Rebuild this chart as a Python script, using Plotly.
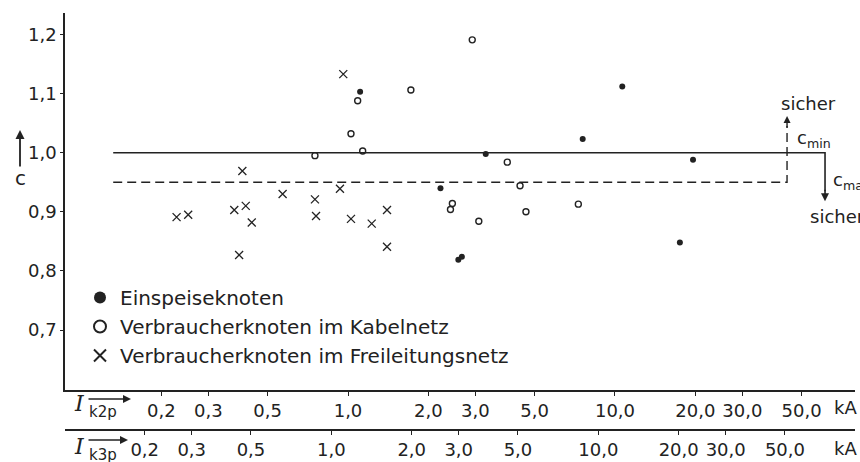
import math
import plotly.graph_objects as go

# Ik2p in kA, c factor
einspeise_x = [1.11, 3.28, 2.22, 10.65, 7.57, 19.6, 2.59, 2.67, 17.5]
einspeise_c = [1.103, 0.998, 0.940, 1.112, 1.023, 0.988, 0.819, 0.824, 0.848]

kabel_x = [1.087, 1.026, 1.135, 0.752, 1.72, 2.92, 3.95, 4.41, 2.46, 2.42, 3.09, 4.64, 7.29]
kabel_c = [1.088, 1.032, 1.003, 0.995, 1.106, 1.191, 0.984, 0.944, 0.914, 0.904, 0.884, 0.900, 0.913]

frei_x = [0.960, 0.933, 0.569, 0.752, 0.759, 1.026, 1.227, 1.40, 1.40,
          0.228, 0.252, 0.375, 0.414, 0.436, 0.391, 0.402]
frei_c = [1.133, 0.939, 0.930, 0.921, 0.893, 0.888, 0.880, 0.903, 0.841,
          0.891, 0.895, 0.903, 0.910, 0.882, 0.827, 0.969]

x_ticks = [0.2, 0.3, 0.5, 1, 2, 3, 5, 10, 20, 30, 50]
x_ticktext = ["0,2", "0,3", "0,5", "1,0", "2,0", "3,0", "5,0", "10,0", "20,0", "30,0", "50,0"]
y_ticks = [0.7, 0.8, 0.9, 1.0, 1.1, 1.2]
y_ticktext = ["0,7", "0,8", "0,9", "1,0", "1,1", "1,2"]

c_min = 1.0
c_max = 0.95
line_start = 0.132
c_min_end = 61.2
c_max_end = 44.1

INK = "#222222"
FONT = "DejaVu Sans"

# Ik3p = 2/sqrt(3) * Ik2p
shift = math.log10(2 / math.sqrt(3))
x_range = [-1.06, 1.899]
x2_range = [x_range[0] + shift, x_range[1] + shift]


def px(x):
    return (x - 65) / 790


def py(y):
    return (430 - y) / 417


fig = go.Figure()

fig.add_trace(go.Scatter(x=[line_start, c_min_end, c_min_end], y=[c_min, c_min, 0.935],
                         mode="lines", line=dict(color=INK, width=1.6),
                         showlegend=False, hoverinfo="skip"))
fig.add_trace(go.Scatter(x=[line_start, c_max_end, c_max_end], y=[c_max, c_max, 1.045],
                         mode="lines", line=dict(color=INK, width=1.4, dash="9px,5px"),
                         showlegend=False, hoverinfo="skip"))

fig.add_trace(go.Scatter(x=einspeise_x, y=einspeise_c, mode="markers",
                         name="Einspeiseknoten", legendgroup="a",
                         marker=dict(symbol="circle", size=6, color=INK)))
fig.add_trace(go.Scatter(x=kabel_x, y=kabel_c, mode="markers",
                         name="Verbraucherknoten im Kabelnetz", legendgroup="b",
                         marker=dict(symbol="circle-open", size=6, color=INK,
                                     line=dict(width=1.4, color=INK))))
fig.add_trace(go.Scatter(x=frei_x, y=frei_c, mode="markers",
                         name="Verbraucherknoten im Freileitungsnetz", legendgroup="c",
                         marker=dict(symbol="x-thin", size=8, color=INK,
                                     line=dict(width=1.3, color=INK))))
fig.add_trace(go.Scatter(x=[None], y=[None], xaxis="x2", showlegend=False,
                         hoverinfo="skip"))

axis_style = dict(type="log", showline=True, linewidth=1.5, linecolor=INK,
                  ticks="outside", ticklen=4, tickwidth=1.2, tickcolor=INK,
                  tickvals=x_ticks, ticktext=x_ticktext, showgrid=False,
                  zeroline=False, automargin=False,
                  tickfont=dict(size=18, color=INK))

fig.update_layout(
    width=860, height=462,
    margin=dict(l=65, r=5, t=13, b=32, pad=0, autoexpand=False),
    paper_bgcolor="white", plot_bgcolor="white",
    font=dict(family=FONT, size=18, color=INK),
    xaxis=dict(range=x_range, anchor="y", **axis_style),
    xaxis2=dict(range=x2_range, overlaying="x", anchor="free", position=0,
                side="bottom", **axis_style),
    yaxis=dict(domain=[40 / 417, 1], range=[0.5985, 1.2364], showline=True,
               linewidth=1.5, linecolor=INK, ticks="outside", ticklen=3,
               tickwidth=1.2, tickcolor=INK, tickvals=y_ticks, ticktext=y_ticktext,
               showgrid=False, zeroline=False, automargin=False,
               tickfont=dict(size=18, color=INK)),
    legend=dict(x=px(80), y=py(278), xanchor="left", yanchor="top",
                font=dict(size=20, color=INK), itemsizing="constant",
                tracegroupgap=0, bgcolor="rgba(0,0,0,0)"),
    showlegend=True,
)

annotations = [
    # y-axis title with arrow
    dict(x=px(20), y=py(178), text="c", showarrow=False, font=dict(size=20)),
    dict(x=px(20), y=py(130), text="", showarrow=True, ax=0, ay=38,
         arrowhead=2, arrowsize=1, arrowwidth=1.8, arrowcolor=INK),
    # x-axis titles
    dict(x=px(79), y=py(403), text="<i>I</i>", showarrow=False,
         font=dict(family="DejaVu Serif", size=22)),
    dict(x=px(87), y=py(412), text="k2p", xanchor="left", showarrow=False,
         font=dict(size=15)),
    dict(x=px(131), y=py(399), text="", showarrow=True, ax=-44, ay=0,
         arrowhead=2, arrowsize=1, arrowwidth=1.6, arrowcolor=INK),
    dict(x=px(79), y=py(446), text="<i>I</i>", showarrow=False,
         font=dict(family="DejaVu Serif", size=22)),
    dict(x=px(87), y=py(455), text="k3p", xanchor="left", showarrow=False,
         font=dict(size=15)),
    dict(x=px(128), y=py(440), text="", showarrow=True, ax=-41, ay=0,
         arrowhead=2, arrowsize=1, arrowwidth=1.6, arrowcolor=INK),
    dict(x=px(845), y=py(407), text="kA", showarrow=False),
    dict(x=px(845), y=py(448), text="kA", showarrow=False),
    # right-hand annotations
    dict(x=math.log10(c_max_end), y=1.062, xref="x", yref="y", text="",
         showarrow=True, axref="x", ayref="y", ax=math.log10(c_max_end), ay=1.04,
         arrowhead=2, arrowsize=1, arrowwidth=1.4, arrowcolor=INK),
    dict(x=math.log10(c_min_end), y=0.918, xref="x", yref="y", text="",
         showarrow=True, axref="x", ayref="y", ax=math.log10(c_min_end), ay=0.94,
         arrowhead=2, arrowsize=1, arrowwidth=1.6, arrowcolor=INK),
    dict(x=px(779), y=py(104), text="sicher", xanchor="left", showarrow=False),
    dict(x=px(795), y=py(139), text="c<sub>min</sub>", xanchor="left", showarrow=False),
    dict(x=px(831), y=py(181), text="c<sub>max</sub>", xanchor="left", showarrow=False),
    dict(x=px(808), y=py(216), text="sicher", xanchor="left", showarrow=False),
]
for a in annotations:
    a.setdefault("xref", "paper")
    a.setdefault("yref", "paper")
    a.setdefault("xanchor", "center")
    a.setdefault("yanchor", "middle")
    fig.add_annotation(**a)

fig.write_html("out.html", config={"displayModeBar": False},
               post_script="document.body.style.margin='0px';")
